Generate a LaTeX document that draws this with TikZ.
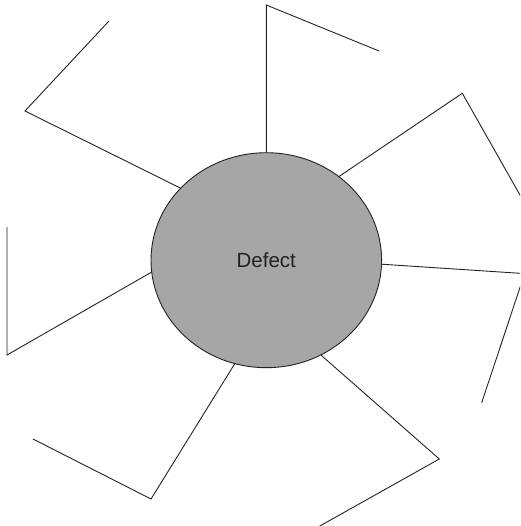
\documentclass[tikz,border=0pt]{standalone}
\usepackage{fontspec}
\setmainfont{Liberation Sans}
\usetikzlibrary{shapes.geometric}
\definecolor{fillgray}{RGB}{166,166,166}
\definecolor{inkgray}{RGB}{34,34,34}
\tikzset{
  centre/.style={ellipse, draw=inkgray, line width=0.9pt, fill=fillgray,
    minimum width=230.6pt, minimum height=215pt, inner sep=0pt,
    font=\fontsize{20.5}{24}\selectfont, text=inkgray},
  spoke/.style={draw=inkgray, line width=0.9pt, line join=miter}
}
\begin{document}
\begin{tikzpicture}[x=1pt,y=-1pt]
\useasboundingbox (0,0) rectangle (520,526);
\clip (0,0) rectangle (520,526);
\node[centre] (defect) at (266.3,260.2) {Defect};
% corners and free ends
\coordinate (c1) at (266.3,5);   \coordinate (e1) at (379,51);
\coordinate (c2) at (25,111);    \coordinate (e2) at (109,21);
\coordinate (c3) at (462.3,93.3);\coordinate (e3) at (530,212.7);
\coordinate (c4) at (524.6,273.6);\coordinate (e4) at (481.7,402.7);
\coordinate (c5) at (439.3,459); \coordinate (e5) at (302,536);
\coordinate (c6) at (151,499);   \coordinate (e6) at (33,439);
\coordinate (c7) at (7,355);     \coordinate (e7) at (7,227);
\draw[spoke] (defect.90) -- (c1) -- (e1);
\draw[spoke] (defect.140.1) -- (c2) -- (e2);
\draw[spoke] (defect.49.7) -- (c3) -- (e3);
\draw[spoke] (defect.-2) -- (c4) -- (e4);
\draw[spoke] (defect.-60.6) -- (c5) -- (e5);
\draw[spoke] (defect.253.4) -- (c6) -- (e6);
\draw[spoke] (defect.186) -- (c7) -- (e7);
\end{tikzpicture}
\end{document}
